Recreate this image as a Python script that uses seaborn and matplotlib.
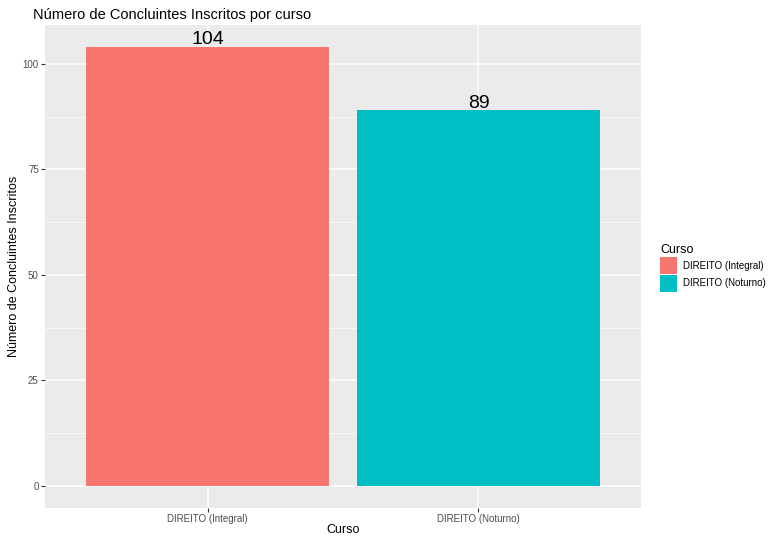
import pandas as pd
import seaborn as sns
import matplotlib.pyplot as plt
import matplotlib.patches as patches

plt.rcParams["font.family"] = ["Liberation Sans", "DejaVu Sans"]

# Données
cursos = ["DIREITO (Integral)", "DIREITO (Noturno)"]
concluintes = [104, 89]
cores = ["#F8766D", "#00BFC4"]

df = pd.DataFrame({"Curso": cursos, "n": concluintes})

fig = plt.figure(figsize=(7.69, 5.36), dpi=100)
ax = fig.add_axes([45 / 769, 1 - 508 / 536, (641 - 45) / 769, (508 - 25) / 536])
ax.set_facecolor("#EBEBEB")

sns.barplot(data=df, x="Curso", y="n", hue="Curso", palette=cores,
            width=0.9, saturation=1, legend=False, ax=ax, zorder=3)

# Étiquettes au-dessus des barres
for i, v in enumerate(concluintes):
    ax.text(i, v - 0.3, str(v), ha="center", va="bottom", fontsize=14, color="black", zorder=4)

ax.set_xlim(-0.6, 1.6)
ax.set_ylim(-5.2, 109.2)
ax.set_yticks([0, 25, 50, 75, 100])
ax.set_yticks([12.5, 37.5, 62.5, 87.5], minor=True)
ax.grid(True, which="major", color="white", linewidth=1.1, zorder=0)
ax.grid(True, which="minor", axis="y", color="white", linewidth=0.5, zorder=0)
ax.set_axisbelow(True)
for s in ax.spines.values():
    s.set_visible(False)
ax.tick_params(axis="both", which="major", length=3, color="#333333",
               labelsize=7, labelcolor="#4D4D4D", pad=1.5)
ax.tick_params(axis="y", which="minor", length=0)

ax.set_xlabel("Curso", fontsize=9, labelpad=0)
ax.set_ylabel("Número de Concluintes Inscritos", fontsize=9, labelpad=2)
ax.set_title("Número de Concluintes Inscritos por curso", fontsize=10.5, loc="left",
             x=-0.02, pad=4)

# Légende
handles = [patches.Patch(facecolor=c, edgecolor="none") for c in cores]
fig.legend(handles, cursos, title="Curso", loc="center left",
           bbox_to_anchor=(657 / 769, 1 - 268 / 536), frameon=False,
           fontsize=7, title_fontsize=9, handlelength=1.8, handleheight=2.3,
           handletextpad=0.6, labelspacing=0.1, alignment="left",
           borderaxespad=0, borderpad=0.3)

fig.savefig("out.png", dpi=100)
